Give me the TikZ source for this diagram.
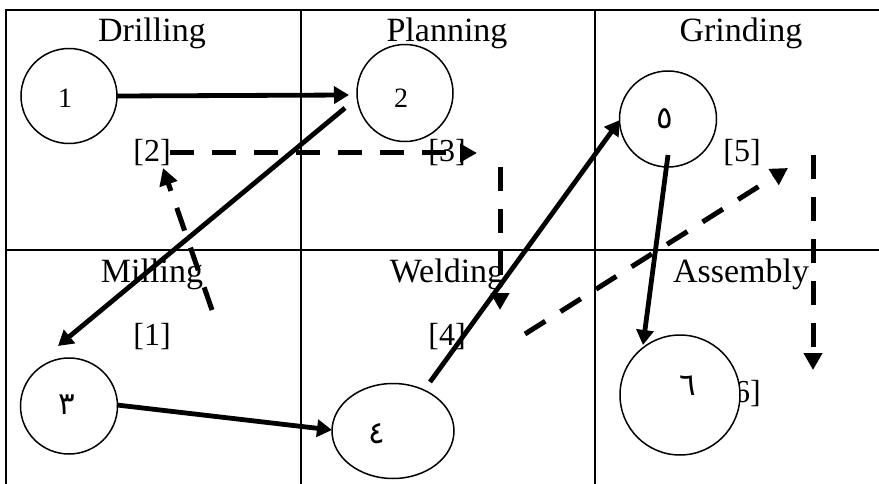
\documentclass[tikz,border=0pt]{standalone}
\usepackage{fontspec}
\setmainfont{Liberation Serif}
\newfontfamily\arabicfont[Script=Arabic]{DejaVu Sans}
\TeXXeTstate=1
\usetikzlibrary{arrows.meta,shapes.geometric}
\tikzset{
 gridline/.style={line width=2pt},
 title/.style={anchor=base, inner sep=0pt, font=\fontsize{34}{40}\selectfont},
 lab/.style={anchor=base, inner sep=0pt, font=\fontsize{32}{38}\selectfont},
 station/.style={ellipse, draw, line width=1.5pt, fill=white, inner sep=0pt},
 digit/.style={anchor=base, inner sep=0pt, font=\fontsize{28}{34}\selectfont},
 adigit/.style={inner sep=0pt, font=\arabicfont\fontsize{31}{36}\selectfont},
 flow/.style={line width=4.8pt, -{Triangle[length=15pt,width=17pt]}},
 route/.style={line width=5pt, dash pattern=on 24pt off 18pt, -{Triangle[length=17pt,width=18pt]}},
}
\begin{document}
\begin{tikzpicture}[x=1pt,y=-1pt]
\useasboundingbox (0,0) rectangle (879,484);
% grid
\draw[gridline] (879,10) -- (6,10) -- (6,484);
\draw[gridline] (6,250) -- (879,250);
\draw[gridline] (301,10) -- (301,484);
\draw[gridline] (595,10) -- (595,484);
% titles
\node[title] (tDrill) at (152,42) {Drilling};
\node[title] (tPlan) at (447,42) {Planning};
\node[title] (tGrind) at (741,42) {Grinding};
\node[title] (tMill) at (152,282) {Milling};
\node[title] (tWeld) at (447,282) {Welding};
\node[title] (tAsm) at (741,282) {Assembly};
% labels
\node[lab] (L2) at (152,162) {[2]};
\node[lab] (L3) at (447,162) {[3]};
\node[lab] (L5) at (742,162) {[5]};
\node[lab] (L1) at (152,345) {[1]};
\node[lab] (L4) at (447,345) {[4]};
\node[lab] (L6) at (742,402) {[6]};
% stations
\node[station, minimum width=96pt, minimum height=95pt] (n1) at (69,96) {};
\node[station, minimum width=96pt, minimum height=97pt] (n2) at (405,93) {};
\node[station, minimum width=97pt, minimum height=96pt] (n5) at (668,119) {};
\node[station, minimum width=97pt, minimum height=96pt] (n3) at (69,406) {};
\node[station, minimum width=122pt, minimum height=95pt] (n4) at (393,431) {};
\node[station, minimum width=120pt, minimum height=120pt] (n6) at (680,395) {};
\node[digit] (d1) at (65,108) {1};
\node[digit] (d2) at (401,108) {2};
\node[adigit] (d5) at (665,119) {\beginR ٥\endR};
\node[adigit] (d3) at (67,405) {\beginR ٣\endR};
\node[adigit] (d4) at (377,434) {\beginR ٤\endR};
\node[adigit] (d6) at (688,386) {\beginR ٦\endR};
% dashed routes
\draw[route] ([shift={(60,-35)}]L1.base) -- ([shift={(11,6)}]L2.base);
\draw[route] ([shift={(18,-9)}]L2.base) -- ([shift={(30,-9)}]L3.base);
\draw[route] ([shift={(53,5)}]L3.base) -- ([shift={(53,-35)}]L4.base);
\draw[route] ([shift={(78,-11)}]L4.base) -- ([shift={(46,6)}]L5.base);
\draw[route] ([shift={(71,-7)}]L5.base) -- ([shift={(71,-32)}]L6.base);
% solid flows
\draw[flow] ([shift={(48,0)}]n1.center) -- ([shift={(-56,2)}]n2.center);
\draw[flow] ([shift={(-60,15)}]n2.center) -- ([shift={(-11,-60)}]n3.center);
\draw[flow] ([shift={(48,-1)}]n3.center) -- ([shift={(-61,-1)}]n4.center);
\draw[flow] ([shift={(37,-49)}]n4.center) -- ([shift={(-48,1)}]n5.center);
\draw[flow] ([shift={(0,36)}]n5.center) -- ([shift={(-37,-50)}]n6.center);
\end{tikzpicture}
\end{document}
